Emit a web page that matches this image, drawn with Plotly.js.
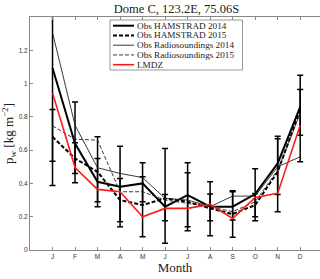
<!DOCTYPE html>
<html><head><meta charset="utf-8">
<script src="https://cdn.plot.ly/plotly-3.0.1.min.js"></script>
<style>html,body{margin:0;padding:0;background:#fff}#c{width:320px;height:279px}</style>
</head><body><div id="c"></div>
<script>
const months = [1,2,3,4,5,6,7,8,9,10,11,12];
const monthLabels = ['J','F','M','A','M','J','J','A','S','O','N','D'];
const ham2014 = [1.094,0.64,0.41,0.38,0.40,0.26,0.33,0.26,0.26,0.336,0.52,0.86];
const ham2014Upper = [1.80,0.89,0.55,0.624,0.524,0.334,0.524,0.41,0.35,0.488,0.684,1.05];
const ham2014Lower = [0.388,0.404,0.29,0.14,0.29,0.176,0.116,0.086,0.18,0.176,0.334,0.69];
const ham2015 = [0.68,0.55,0.47,0.30,0.27,0.31,0.29,0.25,0.216,0.27,0.47,0.84];
const ham2015Upper = [0.844,0.644,0.68,0.43,0.44,0.61,0.464,0.336,0.356,0.34,0.668,0.964];
const ham2015Lower = [0.534,0.46,0.26,0.17,0.08,0.04,0.14,0.176,0.076,0.20,0.23,0.53];
const radio2014 = [1.306,0.75,0.494,0.46,0.435,0.31,0.30,0.26,0.324,0.324,0.50,0.56];
const radio2015 = [0.746,0.666,0.66,0.35,0.35,0.30,0.28,0.26,0.23,0.29,0.48,0.82];
const lmdz = [0.944,0.496,0.364,0.35,0.20,0.25,0.25,0.274,0.19,0.316,0.34,0.75];
const yTicks = [0,0.2,0.4,0.6,0.8,1,1.2];
const yTickLabels = ['0','0.2','0.4','0.6','0.8','1','1.2'];
const seriesNames = ['Obs HAMSTRAD 2014','Obs HAMSTRAD 2015','Obs Radiosoundings 2014','Obs Radiosoundings 2015','LMDZ'];

const styles = [
  {color:'#000', width:2},
  {color:'#000', width:2, dash:'4px,2px'},
  {color:'#222', width:0.9},
  {color:'#222', width:0.9, dash:'4px,2px'},
  {color:'#ff1a1a', width:1.6}
];
const seriesData = [ham2014, ham2015, radio2014, radio2015, lmdz];

const diff = (a,b)=>a.map((v,i)=>v-b[i]);
function errTrace(y, up, lo){
  return {x: months, y: y, mode:'markers', marker:{size:1, opacity:0}, showlegend:false, hoverinfo:'skip',
    error_y:{type:'data', symmetric:false, array: diff(up,y), arrayminus: diff(y,lo), color:'#000', thickness:1.5, width:3}};
}
const traces = [
  errTrace(ham2014, ham2014Upper, ham2014Lower),
  errTrace(ham2015, ham2015Upper, ham2015Lower)
];
seriesData.forEach((d,i)=>traces.push({x: months, y: d, mode:'lines', name: seriesNames[i], line: styles[i], showlegend:false}));

// manual legend (layout in pixel space converted to paper)
const L=30, T=17, W=290, H=233;
const px = v => (v - L)/W;
const py = v => (T + H - v)/H;
const shapes = [{type:'rect', xref:'paper', yref:'paper', x0:px(110), x1:px(242.5), y0:py(20), y1:py(70),
  line:{color:'#999', width:1}, fillcolor:'#fff', layer:'above'}];
const annotations = [];
seriesNames.forEach((n,i)=>{
  const yy = 25.7 + i*9.75;
  shapes.push({type:'line', xref:'paper', yref:'paper', x0:px(113), x1:px(134), y0:py(yy), y1:py(yy), line: styles[i], layer:'above'});
  annotations.push({xref:'paper', yref:'paper', x:px(135), y:py(yy), text:n, showarrow:false, xanchor:'left', yanchor:'middle',
    font:{family:'Liberation Serif, DejaVu Serif, serif', size:9.2, color:'#222'}});
});

const serif = 'Liberation Serif, DejaVu Serif, serif';
const layout = {
  width:320, height:279,
  margin:{l:L, r:0, t:T, b:29, pad:0},
  paper_bgcolor:'#fff', plot_bgcolor:'#fff',
  title:{text:'Dome C, 123.2E, 75.06S', font:{family:serif, size:12.5, color:'#222'}, x:0.505, xref:'paper', xanchor:'center', y:1-9/279, yref:'container', yanchor:'middle'},
  xaxis:{range:[0,12.88], tickvals:months, ticktext:monthLabels, ticks:'inside', ticklen:3, tickcolor:'#888',
    showline:true, linecolor:'#888', linewidth:1, mirror:'ticks', showgrid:false, zeroline:false,
    tickfont:{family:'Liberation Sans, Arial, sans-serif', size:6.5, color:'#333'},
    title:{text:'Month', font:{family:serif, size:13, color:'#222'}, standoff:0}},
  yaxis:{range:[0,1.4], tickvals:yTicks, ticktext:yTickLabels, ticks:'inside', ticklen:3, tickcolor:'#888',
    showline:true, linecolor:'#888', linewidth:1, mirror:false, showgrid:false, zeroline:false,
    tickfont:{family:'Liberation Sans, Arial, sans-serif', size:6.5, color:'#333'},
    title:{text:'p<sub>w</sub> [kg m<sup>−2</sup>]', font:{family:serif, size:13, color:'#222'}, standoff:5}},
  showlegend:false,
  shapes: shapes,
  annotations: annotations
};
Plotly.newPlot('c', traces, layout, {staticPlot:true, displayModeBar:false});
</script></body></html>
